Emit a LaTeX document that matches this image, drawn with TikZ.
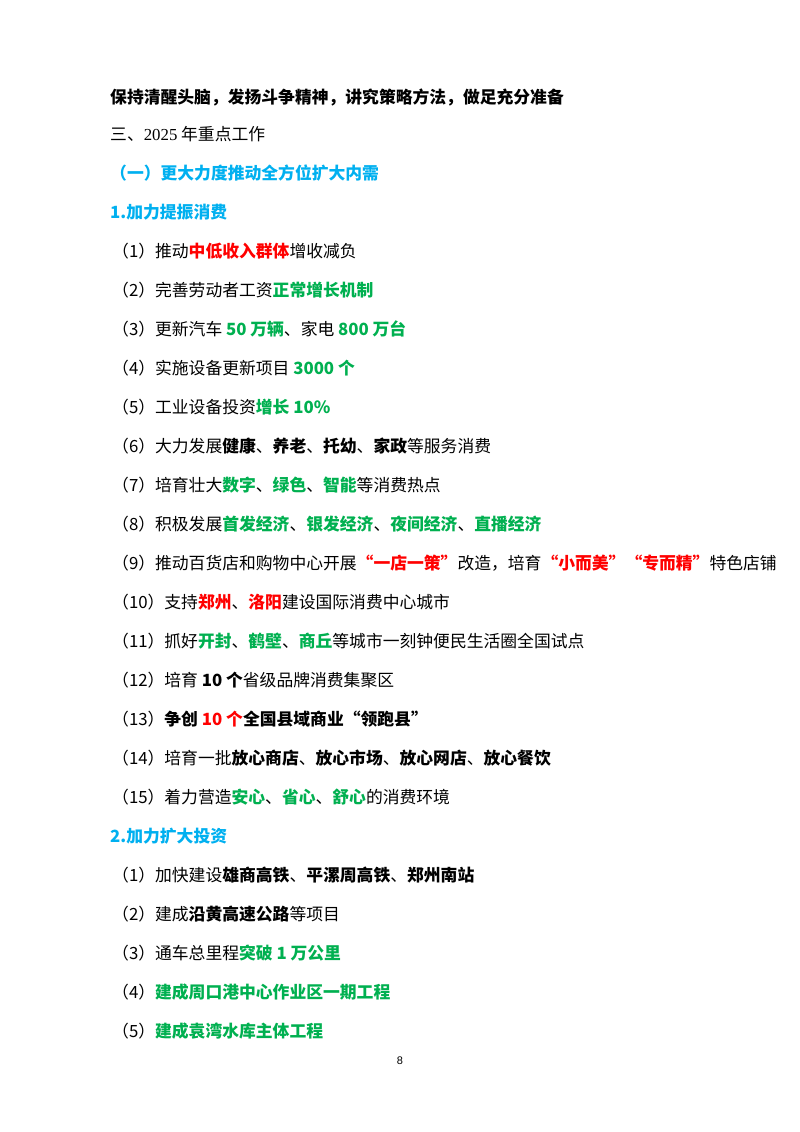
\documentclass[tikz,border=0pt]{standalone}
\usepackage{fontspec}
\newfontfamily\cjk{Noto Sans CJK SC}
\newfontfamily\ser{Liberation Serif}
\newfontfamily\lat{Liberation Sans}
\definecolor{rd}{HTML}{FF0000}
\definecolor{gn}{HTML}{00B050}
\definecolor{bl}{HTML}{00B0F0}
\newcommand{\Rr}[1]{{\bfseries\color{rd}#1}}
\newcommand{\Gg}[1]{{\bfseries\color{gn}#1}}
\newcommand{\Bb}[1]{{\bfseries #1}}
\begin{document}
\begin{tikzpicture}[x=1pt,y=-1pt,
  ln/.style={anchor=base west,inner sep=0pt,font=\fontsize{16.8}{19}\cjk}]
\useasboundingbox[fill=white] (0,0) rectangle (800,1132);
\node[ln] (l0) at (110,103) {\Bb{保持清醒头脑，发扬斗争精神，讲究策略方法，做足充分准备}};
\node[ln] (l1) at (110,140) {三、{\ser 2025} 年重点工作};
\node[ln] (l2) at (110,179) {\bfseries\color{bl}（一）更大力度推动全方位扩大内需};
\node[ln] (l3) at (110,218) {\bfseries\color{bl}1.加力提振消费};
\node[ln] (a1) at (112,257) {（1）推动\Rr{中低收入群体}增收减负};
\node[ln] (a2) at (112,296) {（2）完善劳动者工资\Gg{正常增长机制}};
\node[ln] (a3) at (112,335) {（3）更新汽车 \Gg{50 万辆}、家电 \Gg{800 万台}};
\node[ln] (a4) at (112,374) {（4）实施设备更新项目 \Gg{3000 个}};
\node[ln] (a5) at (112,413) {（5）工业设备投资\Gg{增长 10\%}};
\node[ln] (a6) at (112,452) {（6）大力发展\Bb{健康}、\Bb{养老}、\Bb{托幼}、\Bb{家政}等服务消费};
\node[ln] (a7) at (112,491) {（7）培育壮大\Gg{数字}、\Gg{绿色}、\Gg{智能}等消费热点};
\node[ln] (a8) at (112,530) {（8）积极发展\Gg{首发经济}、\Gg{银发经济}、\Gg{夜间经济}、\Gg{直播经济}};
\node[ln] (a9) at (112,569) {（9）推动百货店和购物中心开展\Rr{“一店一策”}改造，培育\Rr{“小而美”}\Rr{“专而精”}特色店铺};
\node[ln] (a10) at (112,608) {（10）支持\Rr{郑州}、\Rr{洛阳}建设国际消费中心城市};
\node[ln] (a11) at (112,647) {（11）抓好\Gg{开封}、\Gg{鹤壁}、\Gg{商丘}等城市一刻钟便民生活圈全国试点};
\node[ln] (a12) at (112,686) {（12）培育 \Bb{10 个}省级品牌消费集聚区};
\node[ln] (a13) at (112,725) {（13）\Bb{争创 {\color{rd}10 个}全国县域商业“领跑县”}};
\node[ln] (a14) at (112,764) {（14）培育一批\Bb{放心商店}、\Bb{放心市场}、\Bb{放心网店}、\Bb{放心餐饮}};
\node[ln] (a15) at (112,803) {（15）着力营造\Gg{安心}、\Gg{省心}、\Gg{舒心}的消费环境};
\node[ln] (l4) at (110,842) {\bfseries\color{bl}2.加力扩大投资};
\node[ln] (b1) at (112,881) {（1）加快建设\Bb{雄商高铁}、\Bb{平漯周高铁}、\Bb{郑州南站}};
\node[ln] (b2) at (112,920) {（2）建成\Bb{沿黄高速公路}等项目};
\node[ln] (b3) at (112,959) {（3）通车总里程\Gg{突破 1 万公里}};
\node[ln] (b4) at (112,998) {（4）\Gg{建成周口港中心作业区一期工程}};
\node[ln] (b5) at (112,1037) {（5）\Gg{建成袁湾水库主体工程}};
\node[anchor=base,inner sep=0pt,font=\fontsize{11}{13}\lat] (pg) at (400,1064) {8};
\end{tikzpicture}
\end{document}
